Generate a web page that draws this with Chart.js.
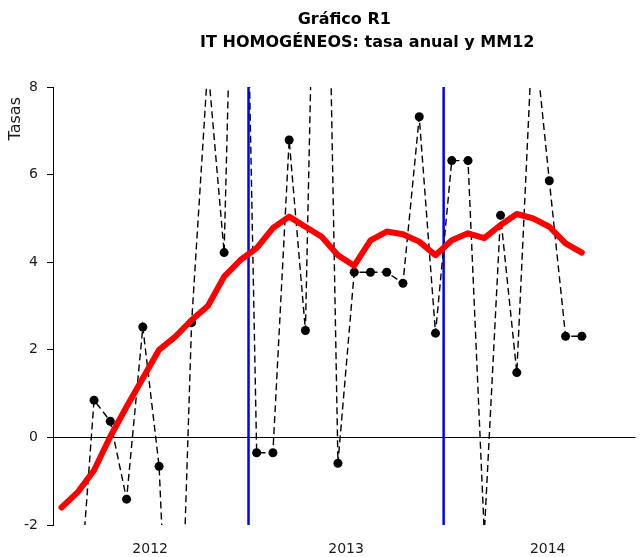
<!DOCTYPE html>
<html><head><meta charset="utf-8">
<script src="https://cdn.jsdelivr.net/npm/chart.js@4/dist/chart.umd.min.js"></script>
<style>html,body{margin:0;padding:0;background:#fff}#wrap{width:640px;height:557px}</style>
</head><body><div id="wrap"><canvas id="c" width="640" height="557"></canvas></div>
<script>
// Months Jan 2012 .. Sep 2014
const months = ['ene-12','feb-12','mar-12','abr-12','may-12','jun-12','jul-12','ago-12','sep-12','oct-12','nov-12','dic-12',
                'ene-13','feb-13','mar-13','abr-13','may-13','jun-13','jul-13','ago-13','sep-13','oct-13','nov-13','dic-13',
                'ene-14','feb-14','mar-14','abr-14','may-14','jun-14','jul-14','ago-14','sep-14'];
const years = ['2012','2013','2014'];
// Tasa anual (dashed, black dots) — values outside [-2, 8] fall off the plot
const tasaAnual = [-5.0, -4.2, 0.85, 0.37, -1.41, 2.52, -0.66, -9.0, 2.62, 8.5, 4.22, 19.0,
                   -0.35, -0.35, 6.79, 2.44, 20.0, -0.59, 3.77, 3.77, 3.77, 3.52, 7.32, 2.38,
                   6.32, 6.32, -2.2, 5.07, 1.48, 9.5, 5.86, 2.31, 2.31];
// MM12 (red)
const mm12 = [-1.6, -1.25, -0.75, 0.02, 0.7, 1.35, 2.0, 2.3, 2.68, 3.0, 3.67, 4.05,
              4.32, 4.78, 5.04, 4.81, 4.58, 4.16, 3.92, 4.5, 4.7, 4.64, 4.47, 4.16,
              4.5, 4.66, 4.55, 4.85, 5.1, 5.0, 4.81, 4.43, 4.22];
const titleLine1 = 'Gráfico R1';
const titleLine2 = 'IT HOMOGÉNEOS: tasa anual y MM12';
const yTitle = 'Tasas';

// layout constants (month index units)
const yearBreaks = [11.5, 23.5];
const yearTickPos = [5.45, 17.5, 29.9];
const FONT = 'DejaVu Sans';

const refLines = {
  id: 'refLines',
  beforeDatasetsDraw(chart) {
    const {ctx, chartArea: {left, right, top, bottom}, scales: {x, y}} = chart;
    ctx.save();
    ctx.strokeStyle = '#000';
    ctx.lineWidth = 1;
    const y0 = Math.round(y.getPixelForValue(0)) + 0.5;
    ctx.beginPath(); ctx.moveTo(left, y0); ctx.lineTo(right, y0); ctx.stroke();
    ctx.strokeStyle = '#0000ff';
    ctx.lineWidth = 2.5;
    yearBreaks.forEach(b => {
      const px = x.getPixelForValue(b);
      ctx.beginPath(); ctx.moveTo(px, top); ctx.lineTo(px, bottom); ctx.stroke();
    });
    ctx.restore();
  },
  afterLayout(chart) {
    const sub = chart.boxes.find(b => b.options && b.options.text === titleLine2);
    if (sub) { sub.left += 23; sub.right += 23; }
    const ys = chart.scales.y;
    if (ys && !ys._titlePatched) {
      const orig = ys.drawTitle;
      ys.drawTitle = function () {
        const t = this.top;
        this.top = t + 10;
        orig.call(this);
        this.top = t;
      };
      ys._titlePatched = true;
    }
  }
};

new Chart(document.getElementById('c'), {
  type: 'line',
  data: {
    datasets: [
      {
        label: 'MM12',
        data: mm12.map((v, i) => ({x: i, y: v})),
        borderColor: '#ff0000',
        borderWidth: 6,
        borderCapStyle: 'round',
        borderJoinStyle: 'round',
        pointRadius: 0,
        tension: 0,
        clip: 3
      },
      {
        label: 'tasa anual',
        data: tasaAnual.map((v, i) => ({x: i, y: v})),
        borderColor: '#000',
        borderWidth: 1.4,
        borderDash: [7, 4],
        pointRadius: 4.5,
        pointBorderWidth: 0,
        pointBackgroundColor: '#000',
        pointBorderColor: '#000',
        tension: 0,
        clip: 0
      }
    ]
  },
  options: {
    responsive: false,
    animation: false,
    devicePixelRatio: 1,
    layout: {padding: 0},
    plugins: {
      legend: {display: false},
      tooltip: {enabled: false},
      title: {
        display: true, text: titleLine1, fullSize: false, color: '#000',
        font: {family: FONT, size: 16, weight: 'bold', lineHeight: 1.2},
        padding: {top: 10, bottom: 0}
      },
      subtitle: {
        display: true, text: titleLine2, fullSize: false, color: '#000',
        font: {family: FONT, size: 16, weight: 'bold', lineHeight: 1.2},
        padding: {top: 4.2, bottom: 34.4}
      }
    },
    scales: {
      x: {
        type: 'linear', min: -0.525, max: 35.3,
        grid: {display: false, drawTicks: false},
        border: {display: false},
        ticks: {
          color: '#1a1a1a', font: {family: FONT, size: 14}, padding: 16,
          autoSkip: false, maxRotation: 0,
          callback: (v, i) => years[i]
        },
        afterBuildTicks: s => { s.ticks = yearTickPos.map(v => ({value: v})); },
        afterFit: s => { s.height = 32; }
      },
      y: {
        min: -2, max: 8,
        ticks: {stepSize: 2, padding: 9, color: '#1a1a1a', font: {family: FONT, size: 14}},
        grid: {drawOnChartArea: false, drawTicks: true, tickLength: 6, color: '#000', lineWidth: 1},
        border: {display: true, color: '#000', width: 1},
        title: {display: true, text: yTitle, align: 'end', color: '#1a1a1a',
                font: {family: FONT, size: 16}, padding: {top: 6, bottom: 0}},
        afterFit: s => { s.width = 53; }
      }
    }
  },
  plugins: [refLines]
});
</script>
</body></html>
